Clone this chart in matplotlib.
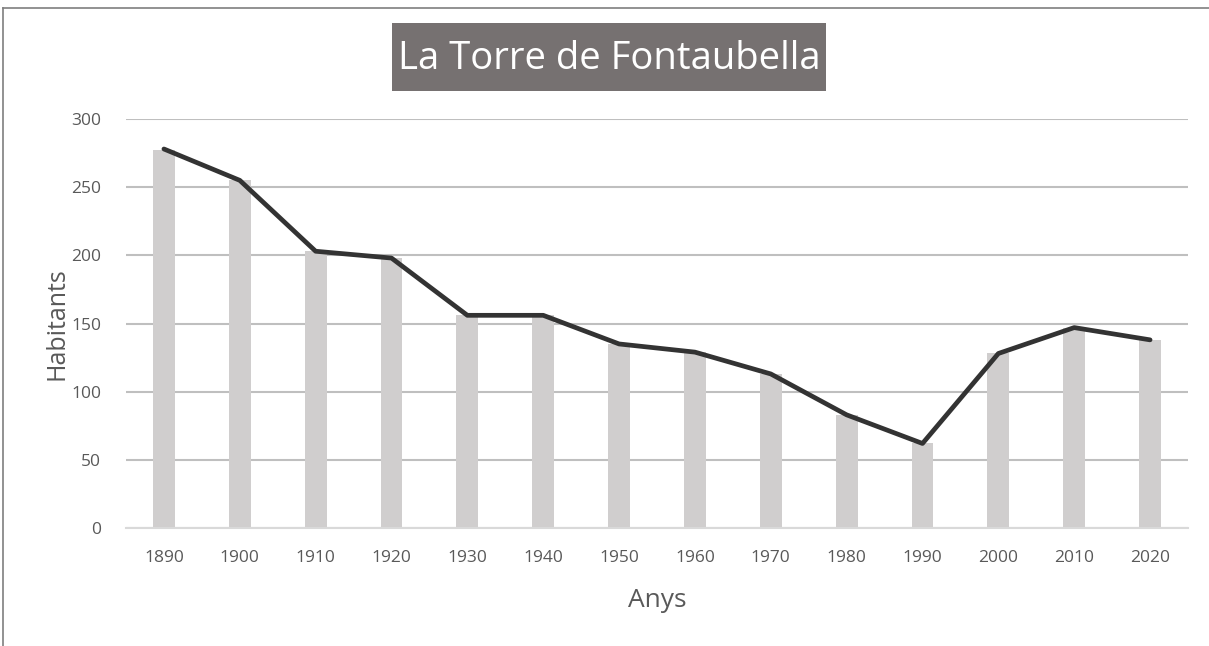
import matplotlib
matplotlib.use("Agg")
import matplotlib.pyplot as plt
from matplotlib.patches import Rectangle
from matplotlib.lines import Line2D

plt.rcParams['font.family'] = ['Open Sans', 'DejaVu Sans']

years = ["1890", "1900", "1910", "1920", "1930", "1940", "1950", "1960", "1970", "1980", "1990", "2000", "2010", "2020"]
bar_values = [277, 255, 203, 198, 156, 156, 135, 129, 113, 83, 62, 128, 147, 138]
line_values = [278, 255, 203, 198, 156, 156, 135, 129, 113, 83, 62, 128, 147, 138]
yticks = [0, 50, 100, 150, 200, 250, 300]

W, H = 1209, 646
fig = plt.figure(figsize=(W / 100, H / 100), dpi=100)
ax = fig.add_axes([126 / W, 1 - 528 / H, (1188 - 126) / W, (528 - 119) / H])

x = list(range(len(years)))
ax.bar(x, bar_values, width=0.29, color="#d0cece", zorder=2)
ax.plot(x, line_values, color="#333333", linewidth=3.4, zorder=3, solid_capstyle="round")

ax.set_xlim(-0.5, len(years) - 0.5)
ax.set_ylim(0, 300)
ax.set_yticks(yticks)
ax.set_xticks(x)
ax.set_xticklabels(years)
ax.yaxis.grid(True, color="#bfbfbf", linewidth=1.5, zorder=0)
ax.set_axisbelow(True)
for s in ["top", "right", "left"]:
    ax.spines[s].set_visible(False)
ax.spines["bottom"].set_color("#d9d9d9")
ax.spines["bottom"].set_linewidth(1.5)
ax.tick_params(axis="x", length=0, labelsize=12.5, colors="#595959", pad=16)
ax.tick_params(axis="y", length=0, labelsize=12.5, colors="#595959", pad=18)

ax.set_ylabel("Habitants", fontsize=18, color="#595959", labelpad=1)
ax.set_xlabel("Anys", fontsize=19, color="#595959", labelpad=16)

# title box
fig.patches.append(Rectangle((392 / W, 1 - 91 / H), (826 - 392) / W, (91 - 23) / H,
                             transform=fig.transFigure, facecolor="#767171", edgecolor="none"))
fig.text(609 / W, 1 - 59 / H, "La Torre de Fontaubella", ha="center", va="center",
         fontsize=27.5, color="white")

# outer border (top and left)
fig.add_artist(Line2D([3 / W, 1], [1 - 8 / H, 1 - 8 / H], transform=fig.transFigure, color="#7f7f7f", linewidth=1.2))
fig.add_artist(Line2D([3 / W, 3 / W], [0, 1 - 8 / H], transform=fig.transFigure, color="#7f7f7f", linewidth=1.2))

fig.savefig("out.png", dpi=100, facecolor="white")
